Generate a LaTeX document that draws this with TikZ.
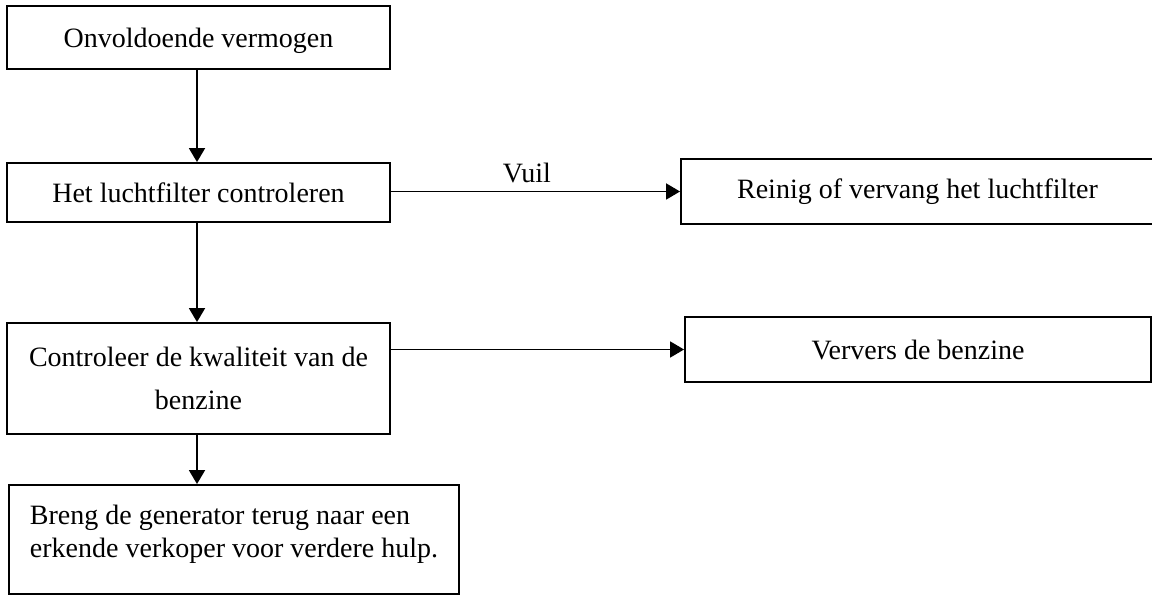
\documentclass[tikz,border=0pt]{standalone}
\usepackage{fontspec}
\setmainfont{Liberation Serif}
\usetikzlibrary{arrows.meta}
\tikzset{
  box/.style={draw, line width=1.9pt, inner sep=0pt, font=\fontsize{28}{33}\selectfont},
  conn/.style={line width=1.9pt, -{Triangle[length=14pt,width=16pt]}},
  lbl/.style={inner sep=0pt, font=\fontsize{28}{33}\selectfont}
}
\begin{document}
\begin{tikzpicture}[x=1pt,y=-1pt]
\clip (0,0) rectangle (1152,596);
\useasboundingbox (0,0) rectangle (1152,596);
\node[box, minimum width=383pt, minimum height=63pt, text depth=0pt] (b1) at (198.5,37.5) {Onvoldoende vermogen};
\node[box, minimum width=383pt, minimum height=59pt] (b2) at (198.5,192.5) {Het luchtfilter controleren};
\node[box, minimum width=473pt, minimum height=65pt] (b3) at (917.5,191.5) {Reinig of vervang het luchtfilter};
\node[box, minimum width=383pt, minimum height=111pt, align=center, font=\fontsize{28}{43}\selectfont] (b4) at (198.5,378.5) {Controleer de kwaliteit van de\\benzine};
\node[box, anchor=west, minimum height=109pt, inner xsep=21pt, align=left] (b6) at (8,539.5) {Breng de generator terug naar een\\erkende verkoper voor verdere hulp.\rule[-16pt]{0pt}{16pt}};
\node[box, minimum width=466pt, minimum height=65pt] (b5) at (918,349.5) {Ververs de benzine};
\draw[conn] (b1.south -| 197,0) -- (b2.north -| 197,0);
\draw[conn] (b2.east |- b3.west) -- node[lbl, pos=0.47, above=8pt] (vuil) {Vuil} (b3.west);
\draw[conn] (b2.south -| 197,0) -- (b4.north -| 197,0);
\draw[conn] (b5.west -| b4.east) -- (b5.west);
\draw[conn] (b4.south -| 197,0) -- (b6.north -| 197,0);
\end{tikzpicture}
\end{document}
